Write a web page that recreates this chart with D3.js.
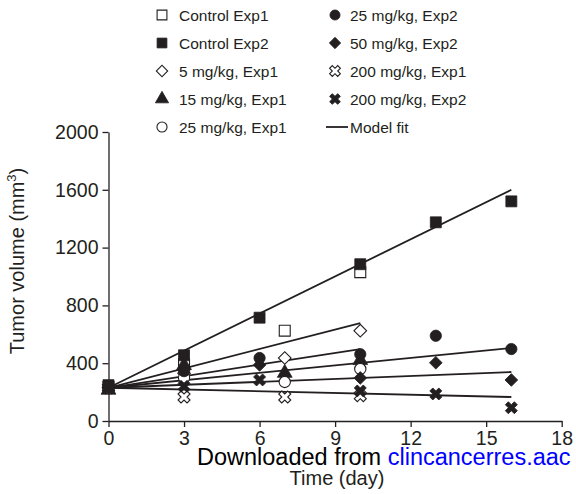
<!DOCTYPE html>
<html lang="en">
<head>
  <meta charset="UTF-8">
  <title>Tumor volume</title>
  <style>
    body { margin: 0; background: #fff; overflow: hidden; }
    svg text { font-family: "Liberation Sans", Arial, sans-serif; fill: #231f20; }
    .axis path, .axis line { stroke: #231f20; stroke-width: 1.3px; }
    .axis text { font-size: 19.5px; }
    .fit { fill: none; stroke: #231f20; stroke-width: 1.8px; }
  </style>
</head>
<body>
  <script src="https://cdn.jsdelivr.net/npm/d3@7"></script>
  <script>
    // series: days + tumour volume (mm3)
    const series = [
      {name: "Control Exp1",    shape: "square",   fill: false, days: [0, 3, 7, 10],            values: [235, 390, 625, 1030]},
      {name: "Control Exp2",    shape: "square",   fill: true,  days: [0, 3, 6, 10, 13, 16],    values: [248, 455, 715, 1085, 1375, 1520]},
      {name: "5 mg/kg, Exp1",   shape: "diamond",  fill: false, days: [0, 3, 7, 10],            values: [230, 330, 436, 625]},
      {name: "15 mg/kg, Exp1",  shape: "triangle", fill: true,  days: [0, 3, 7, 10],            values: [215, 385, 332, 420]},
      {name: "25 mg/kg, Exp1",  shape: "circle",   fill: false, days: [0, 3, 7, 10],            values: [230, 300, 270, 360]},
      {name: "25 mg/kg, Exp2",  shape: "circle",   fill: true,  days: [0, 3, 6, 10, 13, 16],    values: [240, 345, 436, 462, 590, 498]},
      {name: "50 mg/kg, Exp2",  shape: "diamond",  fill: true,  days: [0, 3, 6, 10, 13, 16],    values: [235, 360, 388, 298, 403, 284]},
      {name: "200 mg/kg, Exp1", shape: "cross",    fill: false, days: [0, 3, 7, 10],            values: [230, 166, 166, 175]},
      {name: "200 mg/kg, Exp2", shape: "cross",    fill: true,  days: [0, 3, 6, 10, 13, 16],    values: [230, 240, 284, 208, 187, 92]}
    ];

    // model fit lines: [day, volume] end points
    const fits = [
      [[0, 230], [16, 1600]],
      [[0, 230], [10, 678]],
      [[0, 230], [10, 498]],
      [[0, 230], [16, 505]],
      [[0, 230], [16, 339]],
      [[0, 230], [16, 166]]
    ];

    const xTicks = [0, 3, 6, 9, 12, 15, 18];
    const yTicks = [0, 400, 800, 1200, 1600, 2000];

    const width = 576, height = 494;
    const svg = d3.select("body").append("svg").attr("width", width).attr("height", height);

    const x = d3.scaleLinear().domain([0, 18]).range([108.5, 561.7]);
    const y = d3.scaleLinear().domain([0, 2000]).range([421, 132]);

    svg.append("g").attr("class", "axis")
      .attr("transform", `translate(0,${y(0)})`)
      .call(d3.axisBottom(x).tickValues(xTicks).tickFormat(d3.format("d"))
        .tickSize(6).tickSizeOuter(0).tickPadding(4));

    svg.append("g").attr("class", "axis")
      .attr("transform", `translate(${x(0)},0)`)
      .call(d3.axisLeft(y).tickValues(yTicks).tickFormat(d3.format("d"))
        .tickSize(6).tickSizeOuter(0).tickPadding(4));

    // fit lines
    const line = d3.line().x(d => x(d[0])).y(d => y(d[1]));
    svg.append("g").selectAll("path").data(fits).enter().append("path")
      .attr("class", "fit").attr("d", line);

    const symbolType = {
      square: d3.symbolSquare, diamond: d3.symbolSquare, triangle: d3.symbolTriangle,
      circle: d3.symbolCircle, cross: d3.symbolCross
    };
    const symbolSize = {square: 120, diamond: 80, triangle: 95, circle: 100, cross: 90};
    const symbolRotate = {square: 0, diamond: 45, triangle: 0, circle: 0, cross: 45};

    function drawMarker(sel, s, cx, cy, scale) {
      sel.append("path")
        .attr("d", d3.symbol().type(symbolType[s.shape]).size(symbolSize[s.shape] * scale)())
        .attr("transform", `translate(${cx},${cy}) rotate(${symbolRotate[s.shape]})`)
        .attr("fill", s.fill ? "#231f20" : "#fff")
        .attr("stroke", "#231f20")
        .attr("stroke-width", s.fill ? 0.8 : 1.1);
    }

    const pts = svg.append("g");
    series.forEach(s => {
      s.days.forEach((d, i) => drawMarker(pts, s, x(d), y(s.values[i]), 1));
    });

    // legend, two columns of five
    const legend = svg.append("g");
    const rowY = [15, 43, 71, 99, 127];
    const legendItems = series.concat([{name: "Model fit", shape: "line"}]);
    legendItems.forEach((s, i) => {
      const col = i < 5 ? 0 : 1;
      const cy = rowY[i % 5];
      const sx = col === 0 ? 162 : 335;
      const tx = col === 0 ? 179 : 350;
      if (s.shape === "line") {
        legend.append("line").attr("x1", 326).attr("x2", 348).attr("y1", cy).attr("y2", cy)
          .attr("stroke", "#231f20").attr("stroke-width", 1.8);
      } else {
        drawMarker(legend, s, sx, cy, 0.8);
      }
      legend.append("text").attr("x", tx).attr("y", cy + 5.5)
        .attr("font-size", "15.5px").text(s.name);
    });

    // axis titles
    svg.append("text").attr("x", 337).attr("y", 485).attr("text-anchor", "middle")
      .attr("font-size", "20px").text("Time (day)");

    const yl = svg.append("text")
      .attr("transform", "translate(24,261) rotate(-90)")
      .attr("text-anchor", "middle").attr("font-size", "20px");
    yl.append("tspan").text("Tumor volume (mm");
    yl.append("tspan").attr("font-size", "13px").attr("dy", -8).text("3");
    yl.append("tspan").attr("dy", 8).text(")");

    // download stamp over the axis, cut at the right edge like the source
    const stamp = svg.append("text").attr("x", 197).attr("y", 465).attr("font-size", "23.5px");
    stamp.append("tspan").style("fill", "#000").text("Downloaded from ");
    stamp.append("tspan").style("fill", "#0000ff").text("clincancerres.aac");
  </script>
</body>
</html>
